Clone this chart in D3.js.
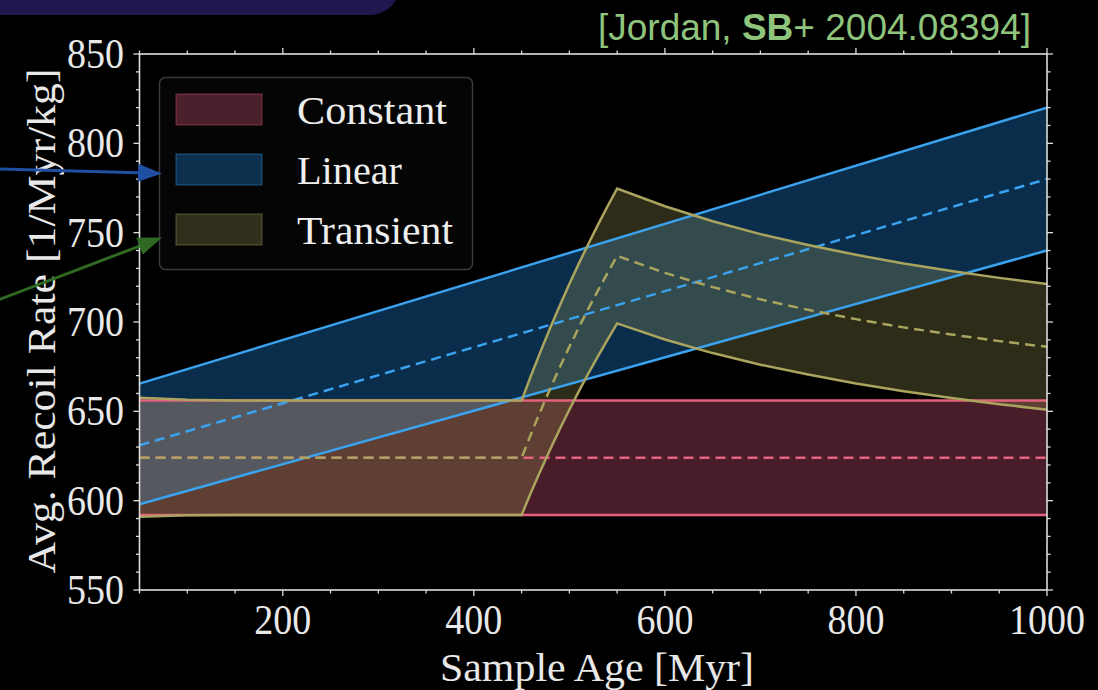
<!DOCTYPE html>
<html>
<head>
<meta charset="utf-8">
<script src="https://cdn.jsdelivr.net/npm/d3@7/dist/d3.min.js"></script>
<style>
  html, body { margin: 0; padding: 0; background: #000; }
  svg { display: block; }
</style>
</head>
<body>
<svg id="chart" width="1098" height="690"></svg>
<script>
// ---- data -------------------------------------------------------------
// Constant recoil rate (band and central value), 1/Myr/kg
const constAges   = [50, 1000];
const constMid    = [624, 624];
const constLow    = [592, 592];
const constHigh   = [656, 656];

// Linearly increasing rate
const linAges     = [50, 1000];
const linMid      = [631, 780];
const linLow      = [598, 740];
const linHigh     = [665.5, 820];

// Transient burst between 450 and 550 Myr
const trAges = [50, 100, 150, 450, 460, 470, 480, 490, 500, 510, 520, 530, 540, 550,
                600, 650, 700, 750, 800, 850, 900, 950, 1000];
const trMid  = [624, 624, 624, 624, 637.5, 650.4, 662.8, 674.7, 686.1, 697.1, 707.6, 717.7, 727.5, 737,
                727.5, 719.5, 712.7, 706.8, 701.6, 697, 693, 689.3, 686.1];
const trLow  = [591, 591.8, 592, 592, 604.8, 617, 628.8, 640.1, 650.9, 661.3, 671.3, 680.9, 690.2, 699.2,
                690.2, 682.6, 676.1, 670.6, 665.6, 661.3, 657.5, 654, 650.9];
const trHigh = [657.6, 656.5, 656.1, 656, 670.2, 683.7, 696.8, 709.3, 721.3, 732.8, 743.8, 754.5, 764.8, 774.7,
                764.8, 756.4, 749.2, 743.1, 737.6, 732.7, 728.6, 724.7, 721.3];

const xTicks      = [200, 400, 600, 800, 1000];
const yTicks      = [550, 600, 650, 700, 750, 800, 850];
const legendNames = ["Constant", "Linear", "Transient"];

// ---- styling ----------------------------------------------------------
const lineColors = ["#e4617f", "#3aa2ee", "#aaa45f"];
const fillColors = ["rgba(240,93,133,0.30)", "rgba(30,150,250,0.30)", "rgba(150,145,80,0.30)"];
const serif = "'Liberation Serif', 'DejaVu Serif', serif";
const textColor = "#e8e8e8";

const svg = d3.select("#chart");
svg.append("rect").attr("width", 1098).attr("height", 690).attr("fill", "#000");

const plot = { left: 139.5, right: 1047, top: 54, bottom: 590 };
const x = d3.scaleLinear().domain([50, 1000]).range([plot.left, plot.right]);
const y = d3.scaleLinear().domain([550, 850]).range([plot.bottom, plot.top]);

// header decoration in the top-left corner
svg.append("rect")
  .attr("x", -60).attr("y", -60).attr("width", 460).attr("height", 75)
  .attr("rx", 30).attr("ry", 30)
  .attr("fill", "#20174f");

const series = [
  { ages: constAges, mid: constMid, low: constLow, high: constHigh },
  { ages: linAges,   mid: linMid,   low: linLow,   high: linHigh },
  { ages: trAges,    mid: trMid,    low: trLow,    high: trHigh }
];

const toRows = s => s.ages.map((a, i) => ({ a, m: s.mid[i], lo: s.low[i], hi: s.high[i] }));

const area = d3.area().x(d => x(d.a)).y0(d => y(d.lo)).y1(d => y(d.hi));
const lineHi = d3.line().x(d => x(d.a)).y(d => y(d.hi));
const lineLo = d3.line().x(d => x(d.a)).y(d => y(d.lo));
const lineMid = d3.line().x(d => x(d.a)).y(d => y(d.m));

const g = svg.append("g");
// bands
series.forEach((s, i) => {
  g.append("path").datum(toRows(s)).attr("d", area).attr("fill", fillColors[i]).attr("stroke", "none");
});
// edges and central curves
series.forEach((s, i) => {
  const rows = toRows(s);
  [lineHi, lineLo].forEach(fn => {
    g.append("path").datum(rows).attr("d", fn)
      .attr("fill", "none").attr("stroke", lineColors[i]).attr("stroke-width", 2.5)
      .attr("stroke-linejoin", "miter");
  });
  g.append("path").datum(rows).attr("d", lineMid)
    .attr("fill", "none").attr("stroke", lineColors[i]).attr("stroke-width", 2.5)
    .attr("stroke-dasharray", "10,6");
});

// ---- axes ---------------------------------------------------------------
const axisColor = "#dcdcdc";
const ax = svg.append("g");
ax.append("rect")
  .attr("x", plot.left).attr("y", plot.top)
  .attr("width", plot.right - plot.left).attr("height", plot.bottom - plot.top)
  .attr("fill", "none").attr("stroke", axisColor).attr("stroke-width", 1.6);

const xMinor = d3.range(50, 1001, 50).filter(v => !xTicks.includes(v));
const yMinor = d3.range(550, 851, 10).filter(v => !yTicks.includes(v));

function tickLines(vals, len, horiz) {
  vals.forEach(v => {
    if (horiz) {
      const px = x(v);
      ax.append("line").attr("x1", px).attr("x2", px).attr("y1", plot.bottom).attr("y2", plot.bottom + len)
        .attr("stroke", axisColor).attr("stroke-width", 1.3);
      ax.append("line").attr("x1", px).attr("x2", px).attr("y1", plot.top).attr("y2", plot.top - len)
        .attr("stroke", axisColor).attr("stroke-width", 1.3);
    } else {
      const py = y(v);
      ax.append("line").attr("y1", py).attr("y2", py).attr("x1", plot.left).attr("x2", plot.left - len)
        .attr("stroke", axisColor).attr("stroke-width", 1.3);
      ax.append("line").attr("y1", py).attr("y2", py).attr("x1", plot.right).attr("x2", plot.right + len)
        .attr("stroke", axisColor).attr("stroke-width", 1.3);
    }
  });
}
tickLines(xTicks, 6, true);
tickLines(xMinor, 3.5, true);
tickLines(yTicks, 6, false);
tickLines(yMinor, 3.5, false);

// tick labels (slightly tall serif digits)
ax.selectAll(".xl").data(xTicks).enter().append("text")
  .attr("transform", d => `translate(${x(d)},634) scale(1,1.1)`)
  .attr("text-anchor", "middle")
  .attr("font-family", serif).attr("font-size", 38).attr("fill", textColor)
  .text(d => d);

ax.selectAll(".yl").data(yTicks).enter().append("text")
  .attr("transform", d => `translate(124,${y(d) + 14}) scale(1,1.1)`)
  .attr("text-anchor", "end")
  .attr("font-family", serif).attr("font-size", 38).attr("fill", textColor)
  .text(d => d);

svg.append("text")
  .attr("x", 597).attr("y", 681)
  .attr("text-anchor", "middle")
  .attr("font-family", serif).attr("font-size", 39).attr("fill", textColor)
  .attr("textLength", 314).attr("lengthAdjust", "spacingAndGlyphs")
  .text("Sample Age [Myr]");

svg.append("text")
  .attr("transform", "translate(55,321) rotate(-90)")
  .attr("text-anchor", "middle")
  .attr("font-family", serif).attr("font-size", 41).attr("fill", textColor)
  .attr("textLength", 505).attr("lengthAdjust", "spacingAndGlyphs")
  .text("Avg. Recoil Rate [1/Myr/kg]");

// ---- legend -------------------------------------------------------------
const lg = svg.append("g");
lg.append("rect")
  .attr("x", 159.5).attr("y", 77.5).attr("width", 313).attr("height", 192)
  .attr("rx", 6).attr("ry", 6)
  .attr("fill", "#050505").attr("stroke", "#3a3a3a").attr("stroke-width", 1.5);
const legendWidths = [150, 105, 156];
legendNames.forEach((name, i) => {
  const top = 94 + i * 60;
  lg.append("rect").attr("x", 176).attr("y", top).attr("width", 86).attr("height", 31)
    .attr("fill", fillColors[i]).attr("stroke", lineColors[i]).attr("stroke-opacity", 0.3)
    .attr("stroke-width", 1.5);
  lg.append("text").attr("x", 297).attr("y", top + 30)
    .attr("font-family", serif).attr("font-size", 41).attr("fill", "#eeeeee")
    .attr("textLength", legendWidths[i]).attr("lengthAdjust", "spacingAndGlyphs")
    .text(name);
});

// ---- citation -----------------------------------------------------------
const cite = svg.append("text")
  .attr("x", 1031).attr("y", 40).attr("text-anchor", "end")
  .attr("font-family", "'Liberation Sans', Arial, sans-serif").attr("font-size", 37)
  .attr("fill", "#8fc47c");
cite.append("tspan").text("[Jordan, ");
cite.append("tspan").attr("font-weight", "bold").text("SB");
cite.append("tspan").text("+ 2004.08394]");

// ---- pointer arrows -----------------------------------------------------
function arrow(x1, y1, x2, y2, color) {
  const ang = Math.atan2(y2 - y1, x2 - x1);
  const L = 24, W = 9;
  const bx = x2 - L * Math.cos(ang), by = y2 - L * Math.sin(ang);
  svg.append("line").attr("x1", x1).attr("y1", y1).attr("x2", bx).attr("y2", by)
    .attr("stroke", color).attr("stroke-width", 3);
  const px = -Math.sin(ang) * W, py = Math.cos(ang) * W;
  svg.append("path")
    .attr("d", `M${x2},${y2}L${bx + px},${by + py}L${bx - px},${by - py}Z`)
    .attr("fill", color);
}
arrow(-2, 169, 162, 173.5, "#1f4fa3");
arrow(-2, 300, 162, 237.5, "#2f6a22");
</script>
</body>
</html>
